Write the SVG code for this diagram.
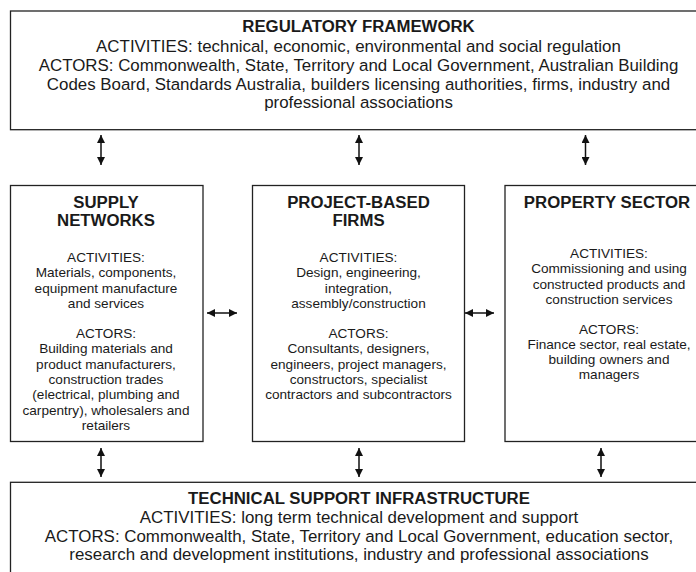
<svg xmlns="http://www.w3.org/2000/svg" width="696" height="572" viewBox="0 0 696 572">
<defs>
<style>
.box{fill:#fff;stroke:#222;stroke-width:1.3}
text{font-family:"Liberation Sans",Arial,sans-serif;fill:#1a1a1a;text-anchor:middle}
.h{font-weight:bold;font-size:16.8px}
.b{font-size:16.9px}
.s{font-size:13.6px}
.c{stroke:#111;stroke-width:1.5;fill:none;marker-start:url(#ah);marker-end:url(#ah)}
</style>
<marker id="ah" viewBox="0 0 10 10" refX="10" refY="5" markerWidth="9" markerHeight="8" markerUnits="userSpaceOnUse" orient="auto-start-reverse">
<path d="M0,0 L10,5 L0,10 z" fill="#111"/>
</marker>
</defs>
<rect width="696" height="572" fill="#fff"/>

<g id="regulatory">
<rect class="box" x="10.5" y="11" width="700" height="118.7"/>
<text class="h" x="358.5" y="32.3">REGULATORY FRAMEWORK</text>
<text class="b" x="358.5" y="52">ACTIVITIES: technical, economic, environmental and social regulation</text>
<text class="b" x="358.5" y="71">ACTORS: Commonwealth, State, Territory and Local Government, Australian Building</text>
<text class="b" x="358.5" y="89.5">Codes Board, Standards Australia, builders licensing authorities, firms, industry and</text>
<text class="b" x="358.5" y="108">professional associations</text>
</g>

<g id="supply">
<rect class="box" x="10.5" y="185.5" width="192.5" height="256"/>
<text class="h" x="106" y="207.5">SUPPLY</text>
<text class="h" x="106" y="226">NETWORKS</text>
<text class="s" x="106" y="262">ACTIVITIES:</text>
<text class="s" x="106" y="277.3">Materials, components,</text>
<text class="s" x="106" y="292.6">equipment manufacture</text>
<text class="s" x="106" y="307.9">and services</text>
<text class="s" x="106" y="338">ACTORS:</text>
<text class="s" x="106" y="353.3">Building materials and</text>
<text class="s" x="106" y="368.6">product manufacturers,</text>
<text class="s" x="106" y="383.9">construction trades</text>
<text class="s" x="106" y="399.2">(electrical, plumbing and</text>
<text class="s" x="106" y="414.5">carpentry), wholesalers and</text>
<text class="s" x="106" y="429.8">retailers</text>
</g>

<g id="project">
<rect class="box" x="252.5" y="185.5" width="212" height="256"/>
<text class="h" x="358.5" y="207.5">PROJECT-BASED</text>
<text class="h" x="358.5" y="226">FIRMS</text>
<text class="s" x="358.5" y="262">ACTIVITIES:</text>
<text class="s" x="358.5" y="277.3">Design, engineering,</text>
<text class="s" x="358.5" y="292.6">integration,</text>
<text class="s" x="358.5" y="307.9">assembly/construction</text>
<text class="s" x="358.5" y="338">ACTORS:</text>
<text class="s" x="358.5" y="353.3">Consultants, designers,</text>
<text class="s" x="358.5" y="368.6">engineers, project managers,</text>
<text class="s" x="358.5" y="383.9">constructors, specialist</text>
<text class="s" x="358.5" y="399.2">contractors and subcontractors</text>
</g>

<g id="property">
<rect class="box" x="505" y="185.5" width="220" height="256"/>
<text class="h" x="607" y="207.5">PROPERTY SECTOR</text>
<text class="s" x="609" y="258">ACTIVITIES:</text>
<text class="s" x="609" y="273.3">Commissioning and using</text>
<text class="s" x="609" y="288.6">constructed products and</text>
<text class="s" x="609" y="303.9">construction services</text>
<text class="s" x="609" y="333.5">ACTORS:</text>
<text class="s" x="609" y="348.8">Finance sector, real estate,</text>
<text class="s" x="609" y="364.1">building owners and</text>
<text class="s" x="609" y="379.4">managers</text>
</g>

<g id="technical">
<rect class="box" x="10.5" y="482.3" width="700" height="120"/>
<text class="h" x="359" y="504">TECHNICAL SUPPORT INFRASTRUCTURE</text>
<text class="b" x="359" y="523.3">ACTIVITIES: long term technical development and support</text>
<text class="b" x="359" y="541.7">ACTORS: Commonwealth, State, Territory and Local Government, education sector,</text>
<text class="b" x="359" y="560">research and development institutions, industry and professional associations</text>
</g>

<g id="connectors">
<line class="c" x1="101" y1="135" x2="101" y2="165"/>
<line class="c" x1="359" y1="135" x2="359" y2="165"/>
<line class="c" x1="585.5" y1="135" x2="585.5" y2="165"/>
<line class="c" x1="207" y1="313" x2="237" y2="313"/>
<line class="c" x1="465" y1="313" x2="494" y2="313"/>
<line class="c" x1="101" y1="448" x2="101" y2="477"/>
<line class="c" x1="359" y1="448" x2="359" y2="477"/>
<line class="c" x1="601" y1="448" x2="601" y2="477"/>
</g>
</svg>
